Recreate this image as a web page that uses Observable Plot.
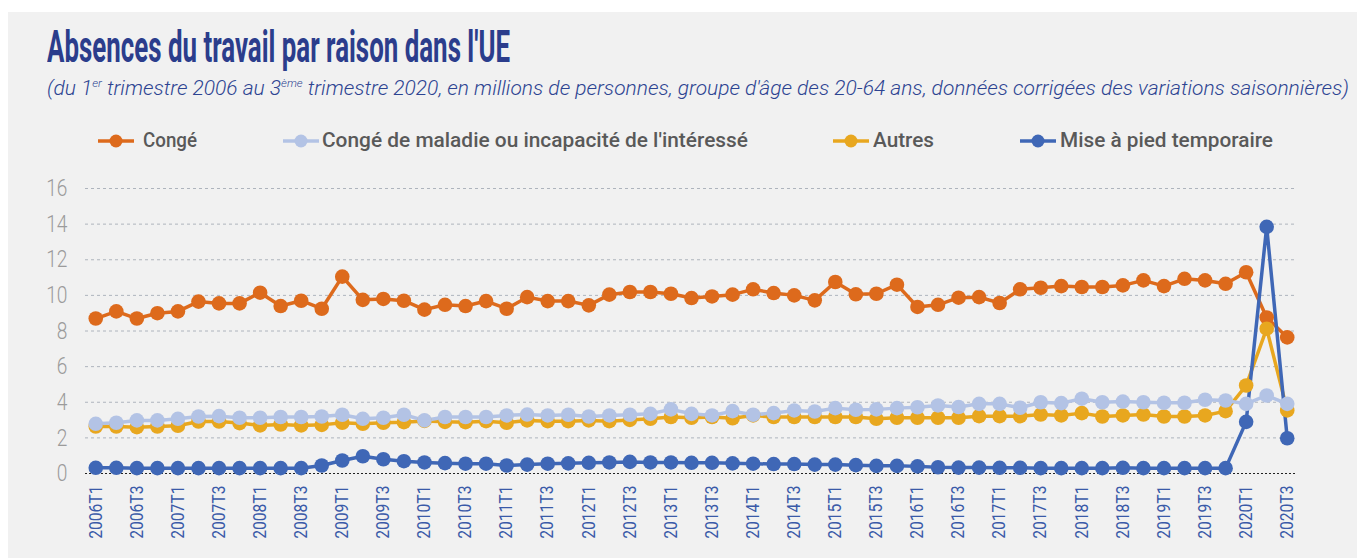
<!DOCTYPE html>
<html><head><meta charset="utf-8">
<script src="https://cdn.jsdelivr.net/npm/d3@7"></script>
<script src="https://cdn.jsdelivr.net/npm/@observablehq/plot@0.6"></script>
<style>
html,body{margin:0;padding:0;background:#fff;width:1357px;height:558px;overflow:hidden;}
#panel{position:absolute;left:8px;top:12px;width:1349px;height:546px;background:#f1f1f1;}
.cond{font-family:Roboto,"Open Sans",sans-serif;white-space:nowrap;position:absolute;line-height:1;transform-origin:0 50%;}
#title{left:47px;top:25px;font-size:44px;font-weight:bold;color:#2b3d8c;}
#subtitle{left:47px;top:78px;font-size:20px;font-style:italic;font-weight:300;color:#2d4491;}
#subtitle sup{font-size:11px;vertical-align:8px;line-height:0;}
.leg{top:130px;font-size:20px;color:#595959;font-weight:500;}
.legmark{position:absolute;top:133px;}
#chart{position:absolute;left:0;top:175px;}
</style>
</head><body>
<div id="panel"></div>
<div id="title" class="cond" data-w="463">Absences du travail par raison dans l'UE</div>
<div id="subtitle" class="cond" data-w="1302">(du 1<sup>er</sup> trimestre 2006 au 3<sup>ème</sup> trimestre 2020, en millions de personnes, groupe d'âge des 20-64 ans, données corrigées des variations saisonnières)</div>
<div id="legend"></div>
<div id="chart"></div>
<script>
const quarters = ["2006T1","2006T2","2006T3","2006T4","2007T1","2007T2","2007T3","2007T4","2008T1","2008T2","2008T3","2008T4","2009T1","2009T2","2009T3","2009T4","2010T1","2010T2","2010T3","2010T4","2011T1","2011T2","2011T3","2011T4","2012T1","2012T2","2012T3","2012T4","2013T1","2013T2","2013T3","2013T4","2014T1","2014T2","2014T3","2014T4","2015T1","2015T2","2015T3","2015T4","2016T1","2016T2","2016T3","2016T4","2017T1","2017T2","2017T3","2017T4","2018T1","2018T2","2018T3","2018T4","2019T1","2019T2","2019T3","2019T4","2020T1","2020T2","2020T3"];
const xTickLabels = ["2006T1","2006T3","2007T1","2007T3","2008T1","2008T3","2009T1","2009T3","2010T1","2010T3","2011T1","2011T3","2012T1","2012T3","2013T1","2013T3","2014T1","2014T3","2015T1","2015T3","2016T1","2016T3","2017T1","2017T3","2018T1","2018T3","2019T1","2019T3","2020T1","2020T3"];
const yTicks = [0,2,4,6,8,10,12,14,16];
const seriesNames = ["Congé","Congé de maladie ou incapacité de l'intéressé","Autres","Mise à pied temporaire"];
const seriesColors = ["#dd6a1c","#b3c3e5","#e8a71f","#3f67b6"];
const conge = [8.7,9.1,8.7,9.0, 9.1,9.65,9.55,9.55, 10.15,9.4,9.7,9.25, 11.05,9.75,9.8,9.7, 9.2,9.47,9.4,9.68, 9.25,9.9,9.68,9.68, 9.44,10.04,10.19,10.19, 10.09,9.85,9.94,10.04, 10.34,10.13,10.0,9.72, 10.75,10.06,10.09,10.6, 9.35,9.47,9.87,9.9, 9.57,10.34,10.43,10.52, 10.47,10.47,10.56,10.84, 10.52,10.93,10.84,10.65, 11.3,8.76,7.64];
const maladie = [2.79,2.85,2.98,2.98, 3.07,3.2,3.22,3.13, 3.13,3.17,3.17,3.2, 3.3,3.07,3.13,3.3, 2.98,3.17,3.17,3.17, 3.26,3.31,3.26,3.3, 3.2,3.26,3.3,3.35, 3.6,3.35,3.26,3.5, 3.3,3.39,3.54,3.48, 3.67,3.58,3.6,3.67, 3.72,3.82,3.73,3.91, 3.91,3.69,4.0,3.95, 4.2,4.0,4.04,4.0, 3.97,3.97,4.14,4.1, 3.91,4.38,3.91];
const autres = [2.64,2.64,2.6,2.64, 2.68,2.92,2.92,2.83, 2.7,2.75,2.7,2.73, 2.85,2.79,2.85,2.88, 2.95,2.9,2.88,2.94, 2.85,2.98,2.94,2.94, 2.98,2.94,3.01,3.07, 3.17,3.13,3.17,3.1, 3.26,3.17,3.17,3.17, 3.17,3.17,3.07,3.13, 3.13,3.13,3.13,3.22, 3.22,3.22,3.31,3.26, 3.39,3.2,3.26,3.31, 3.2,3.2,3.26,3.5, 4.94,8.13,3.54];
const miseAPied = [0.32,0.32,0.3,0.3, 0.3,0.3,0.3,0.3, 0.3,0.3,0.3,0.45, 0.73,0.97,0.8,0.69, 0.62,0.58,0.55,0.55, 0.45,0.5,0.55,0.57, 0.6,0.62,0.65,0.62, 0.62,0.6,0.6,0.57, 0.55,0.53,0.53,0.5, 0.5,0.47,0.43,0.43, 0.4,0.35,0.33,0.33, 0.32,0.32,0.3,0.3, 0.3,0.3,0.32,0.3, 0.3,0.3,0.3,0.3, 2.9,13.85,1.98];
const seriesValues = [conge, maladie, autres, miseAPied];
const legendMarkX = [98, 283, 833, 1020];
const legendTextX = [143, 322, 873, 1060];
const legendTextW = [54, 426, 61, 213];

// legend
const leg = document.getElementById("legend");
seriesNames.forEach((n,i)=>{
  const m = document.createElementNS("http://www.w3.org/2000/svg","svg");
  m.setAttribute("class","legmark");
  m.setAttribute("width","36"); m.setAttribute("height","16");
  m.style.left = legendMarkX[i]+"px";
  m.innerHTML = `<line x1="0" y1="8" x2="36" y2="8" stroke="${seriesColors[i]}" stroke-width="3.5"/><circle cx="18" cy="8" r="6.5" fill="${seriesColors[i]}"/>`;
  leg.appendChild(m);
  const d = document.createElement("div");
  d.className = "cond leg";
  d.style.left = legendTextX[i]+"px";
  d.dataset.w = legendTextW[i];
  d.textContent = n;
  leg.appendChild(d);
});
// fit condensed widths
document.querySelectorAll("[data-w]").forEach(el=>{
  const w = el.getBoundingClientRect().width;
  el.style.transform = `scaleX(${(+el.dataset.w)/w})`;
});

const order = [0,2,1,3];
const data = order.flatMap(s => quarters.map((q,i)=>({q, v: seriesValues[s][i], s: seriesNames[s]})));

const plot = Plot.plot({
  width: 1357, height: 380,
  marginTop: 13, marginBottom: 82, marginLeft: 85, marginRight: 60,
  style: {background: "transparent", fontFamily: 'Roboto,sans-serif'},
  x: {type: "point", domain: quarters, padding: 0.5},
  y: {domain: [0,16]},
  marks: [
    Plot.gridY({ticks: yTicks.filter(t=>t>0), stroke: "#aeb4bd", strokeOpacity: 1, strokeDasharray: "3,3"}),
    Plot.ruleY([0], {stroke: "#222", strokeDasharray: "2,2"}),
    Plot.axisY({ticks: yTicks, tickSize: 0, tickPadding: 18, fontSize: 24, fontWeight: 300, color: "#9b9b9b", label: null}),
    Plot.axisX({ticks: xTickLabels, tickRotate: -90, tickSize: 0, tickPadding: 12, fontSize: 18, color: "#3a5aa8", label: null}),
    ...order.map(s => Plot.line(data.filter(d=>d.s===seriesNames[s]), {x: "q", y: "v", stroke: seriesColors[s], strokeWidth: 3.5})),
    ...order.map(s => Plot.dot(data.filter(d=>d.s===seriesNames[s]), {x: "q", y: "v", fill: seriesColors[s], r: 7.3}))
  ]
});
document.getElementById("chart").appendChild(plot);
// narrow the tick labels to mimic the condensed face
d3.select(plot).selectAll("g[aria-label='y-axis tick label'] text").each(function(){
  const t = this.getAttribute("transform") || "";
  this.setAttribute("transform", t + " scale(0.8,1)");
});
d3.select(plot).selectAll("g[aria-label='x-axis tick label'] text").each(function(){
  const t = this.getAttribute("transform") || "";
  this.setAttribute("transform", t + " scale(0.87,1)");
});
</script>
</body></html>
